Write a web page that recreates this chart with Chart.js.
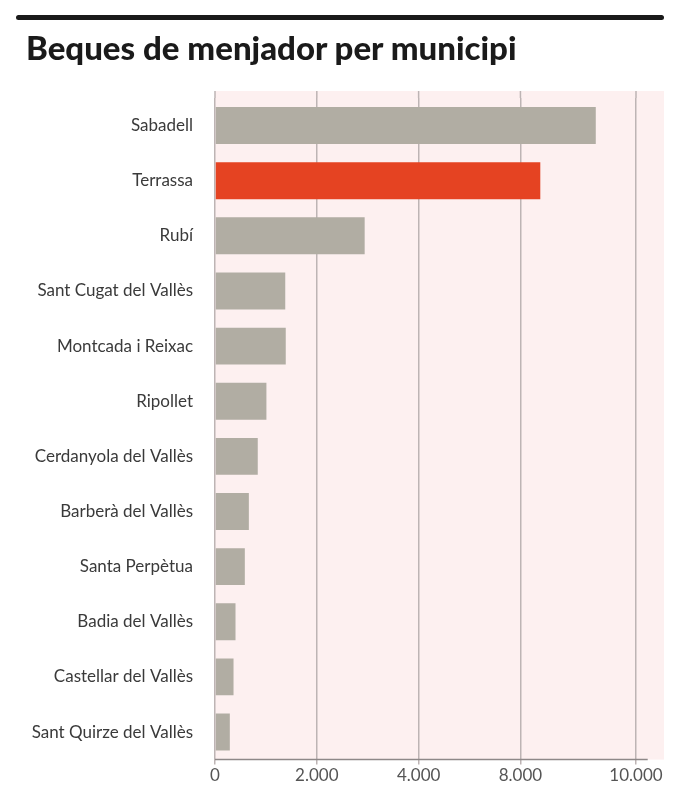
<!DOCTYPE html>
<html>
<head>
<meta charset="utf-8">
<script src="https://cdn.jsdelivr.net/npm/chart.js@4"></script>
<style>
  body { margin: 0; background: #fff; }
  #wrap { position: absolute; left: 0; top: 0; width: 680px; height: 791px; }
  .rule { position: absolute; left: 16px; top: 15px; width: 648px; height: 5px; background: #1a1a1a; border-radius: 3px; }
  h1 { position: absolute; left: 26px; top: 27px; margin: 0; font: 900 33px Lato, sans-serif; color: #1a1a1a; letter-spacing: 0px; }
</style>
</head>
<body>
<div id="wrap">
  <canvas id="chart" width="680" height="791"></canvas>
</div>
<div class="rule"></div>
<h1>Beques de menjador per municipi</h1>
<script>
const municipis = [
  "Sabadell", "Terrassa", "Rubí", "Sant Cugat del Vallès", "Montcada i Reixac",
  "Ripollet", "Cerdanyola del Vallès", "Barberà del Vallès", "Santa Perpètua",
  "Badia del Vallès", "Castellar del Vallès", "Sant Quirze del Vallès"
];
const beques = [7480, 6390, 2940, 1380, 1390, 1010, 840, 665, 586, 403, 364, 291];

// tick labels as printed on the original (gridline positions)
const tickValues = [0, 2000, 4000, 6000, 8270];
const tickLabels = ["0", "2.000", "4.000", "8.000", "10.000"];

const grey = "#b1ada3";
const red = "#e54322";
const colors = municipis.map((m) => (m === "Terrassa" ? red : grey));

const background = {
  id: "background",
  beforeDraw(chart) {
    const { ctx, chartArea } = chart;
    const x = chart.scales.x;
    ctx.save();
    ctx.fillStyle = "#fdf0f0";
    ctx.fillRect(chartArea.left, chartArea.top - 7, chartArea.right - chartArea.left, chartArea.bottom - chartArea.top + 7);
    // grid lines start a little above the first bar band
    ctx.strokeStyle = "#bdb4b4";
    ctx.lineWidth = 1.5;
    tickValues.forEach((v) => {
      const px = x.getPixelForValue(v);
      ctx.beginPath();
      ctx.moveTo(px, chartArea.top - 7);
      ctx.lineTo(px, chartArea.top);
      ctx.stroke();
    });
    ctx.restore();
  },
  afterDraw(chart) {
    const { ctx, chartArea } = chart;
    const x = chart.scales.x;
    ctx.save();
    ctx.strokeStyle = "#8e8888";
    ctx.lineWidth = 1.5;
    ctx.beginPath();
    ctx.moveTo(chartArea.left, chartArea.bottom);
    ctx.lineTo(x.getPixelForValue(8500), chartArea.bottom);
    ctx.stroke();
    ctx.restore();
  },
};

new Chart("chart", {
  type: "bar",
  data: {
    labels: municipis,
    datasets: [
      {
        data: beques,
        backgroundColor: colors,
        barPercentage: 0.67,
        categoryPercentage: 1,
      },
    ],
  },
  options: {
    indexAxis: "y",
    responsive: false,
    animation: false,
    layout: {
      padding: { top: 98, right: 16, bottom: 4, left: 0 },
    },
    plugins: {
      legend: { display: false },
      tooltip: { enabled: false },
    },
    scales: {
      x: {
        min: 0,
        max: 8820,
        afterBuildTicks: (scale) => {
          scale.ticks = tickValues.map((v) => ({ value: v }));
        },
        ticks: {
          callback: (value, index) => tickLabels[index],
          color: "#555",
          font: { family: "Lato", size: 17 },
          padding: 1,
          maxRotation: 0,
        },
        grid: {
          color: "#bdb4b4",
          lineWidth: 1.5,
          tickLength: 5,
        },
        border: { display: false },
      },
      y: {
        afterFit: (scale) => {
          scale.width = 215;
        },
        ticks: {
          color: "#3a3a3a",
          font: { family: "Lato", size: 17 },
          padding: 14,
        },
        grid: { display: false },
        border: { display: false },
      },
    },
  },
  plugins: [background],
});
</script>
</body>
</html>
